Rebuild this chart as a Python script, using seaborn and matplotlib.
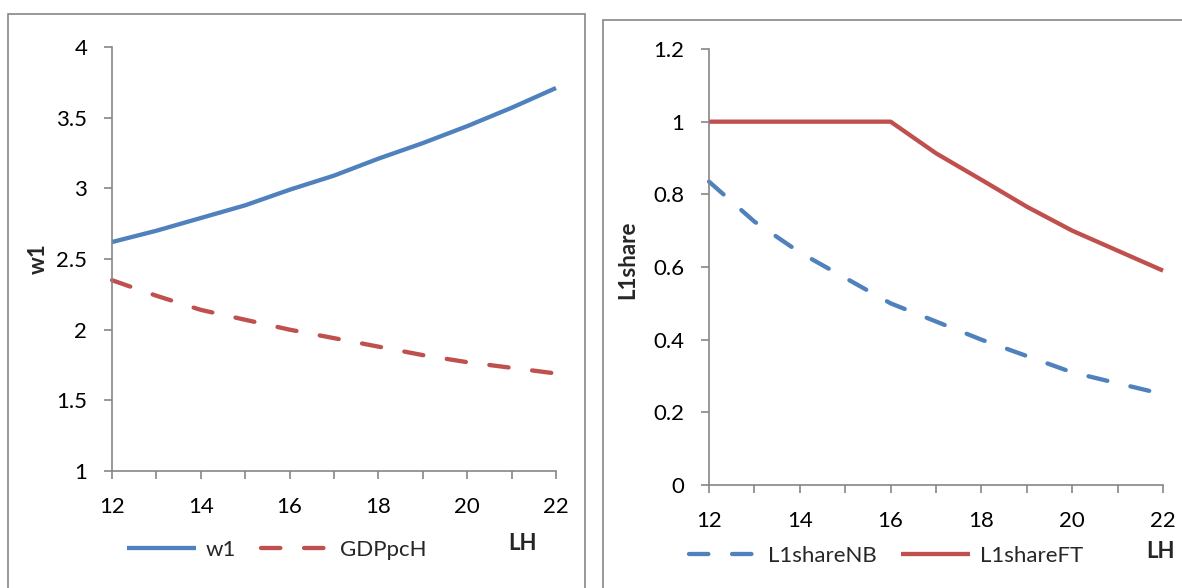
import matplotlib
matplotlib.use("Agg")
import matplotlib.pyplot as plt
from matplotlib.patches import Rectangle
import numpy as np
import pandas as pd
import seaborn as sns

# values
lh = [12, 13, 14, 15, 16, 17, 18, 19, 20, 21, 22]
w1 = [2.62, 2.70, 2.79, 2.88, 2.99, 3.09, 3.21, 3.32, 3.44, 3.57, 3.71]
gdppch = [2.35, 2.24, 2.14, 2.07, 2.00, 1.94, 1.88, 1.82, 1.77, 1.73, 1.69]
l1share_nb = [0.835, 0.725, 0.64, 0.57, 0.50, 0.45, 0.40, 0.355, 0.31, 0.28, 0.25]
l1share_ft = [1.0, 1.0, 1.0, 1.0, 1.0, 0.913, 0.84, 0.766, 0.70, 0.645, 0.59]

BLUE = "#4F81BD"
RED = "#C0504D"
GRAY = "#868686"
DASH = (0, (4.5, 5.5))
FS = 16

sns.set_theme(style="ticks")
plt.rcParams["font.family"] = ["Lato", "DejaVu Sans"]

W, H = 1182, 588
fig = plt.figure(figsize=(W / 100, H / 100), dpi=100)


def fx(px):
    return px / W


def fy(py):
    return 1 - py / H


# outer chart frames (Excel style)
fig.patches.append(Rectangle((fx(8), fy(700)), fx(577), fy(14) - fy(700),
                             transform=fig.transFigure, fill=False,
                             edgecolor=GRAY, lw=1.2))
fig.patches.append(Rectangle((fx(603), fy(700)), fx(700), fy(20) - fy(700),
                             transform=fig.transFigure, fill=False,
                             edgecolor=GRAY, lw=1.2))

ax1 = fig.add_axes([fx(112), fy(471), fx(556) - fx(112), fy(47) - fy(471)])
ax2 = fig.add_axes([fx(709), fy(485), fx(1163) - fx(709), fy(49) - fy(485)])

df = pd.DataFrame({"LH": lh, "w1": w1, "GDPpcH": gdppch,
                   "L1shareNB": l1share_nb, "L1shareFT": l1share_ft})

line_kw = dict(lw=3.1, dash_capstyle="round", solid_capstyle="butt", clip_on=False)
sns.lineplot(data=df, x="LH", y="w1", ax=ax1, color=BLUE, label="w1",
             legend=False, **line_kw)
sns.lineplot(data=df, x="LH", y="GDPpcH", ax=ax1, color=RED, label="GDPpcH",
             linestyle=DASH, legend=False, **line_kw)
sns.lineplot(data=df, x="LH", y="L1shareNB", ax=ax2, color=BLUE, label="L1shareNB",
             linestyle=DASH, legend=False, **line_kw)
sns.lineplot(data=df, x="LH", y="L1shareFT", ax=ax2, color=RED, label="L1shareFT",
             legend=False, **line_kw)

ax1.set_ylim(1, 4)
ax1.set_yticks([1, 1.5, 2, 2.5, 3, 3.5, 4])
ax1.set_yticklabels(["1", "1.5", "2", "2.5", "3", "3.5", "4"])
ax2.set_ylim(0, 1.2)
ax2.set_yticks([0, 0.2, 0.4, 0.6, 0.8, 1.0, 1.2])
ax2.set_yticklabels(["0", "0.2", "0.4", "0.6", "0.8", "1", "1.2"])

for ax in (ax1, ax2):
    ax.set_xlim(12, 22)
    ax.set_xticks([12, 14, 16, 18, 20, 22])
    ax.set_xticks([13, 15, 17, 19, 21], minor=True)
    ax.set_xlabel("")
    ax.set_ylabel("")
    sns.despine(ax=ax)
    for s in ("left", "bottom"):
        ax.spines[s].set_color(GRAY)
        ax.spines[s].set_linewidth(1.2)
    ax.tick_params(axis="both", which="both", direction="out", length=5.8,
                   width=1.2, color=GRAY, labelsize=FS, labelcolor="black")
    ax.tick_params(axis="x", which="both", pad=13)
    ax.tick_params(axis="y", pad=12)
    ax.grid(False)

fig.text(fx(38), fy(259), "w1", rotation=90, fontsize=FS, fontweight="bold",
         ha="center", va="center")
fig.text(fx(628), fy(260), "L1share", rotation=90, fontsize=FS, fontweight="bold",
         ha="center", va="center")
fig.text(fx(523), fy(543), "LH", fontsize=FS, fontweight="bold",
         ha="center", va="center")
fig.text(fx(1160), fy(552), "LH", fontsize=FS, fontweight="bold",
         ha="center", va="center")

leg_kw = dict(frameon=False, fontsize=FS, handlelength=3.1, handletextpad=0.45,
              columnspacing=1.1, borderpad=0, borderaxespad=0, ncol=2,
              loc="center left", bbox_transform=fig.transFigure)
ax1.legend(bbox_to_anchor=(fx(127), fy(550)), **leg_kw)
ax2.legend(bbox_to_anchor=(fx(689), fy(556)), **leg_kw)

fig.savefig("out.png", dpi=100, facecolor="white")
